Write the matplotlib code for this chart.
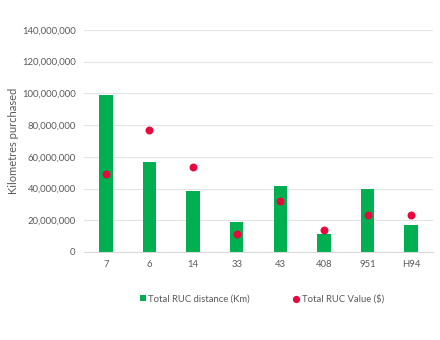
import numpy as np
import matplotlib
matplotlib.use("Agg")
import matplotlib.pyplot as plt
from matplotlib.ticker import FuncFormatter

plt.rcParams['font.family'] = ['Lato', 'DejaVu Sans']

routes = ["7", "6", "14", "33", "43", "408", "951", "H94"]
ruc_distance = [98.7e6, 56.4e6, 38.4e6, 18.7e6, 41.7e6, 11.3e6, 40.0e6, 17.0e6]
ruc_value = [48.9e6, 77.2e6, 53.6e6, 11.3e6, 32.0e6, 13.8e6, 23.0e6, 23.3e6]

green = '#00b050'
red = '#e8083e'
grey = '#595959'

fig = plt.figure(figsize=(4.4, 3.4), dpi=100)
ax = fig.add_axes([0.191, 0.259, 0.793, 0.653])

x = np.arange(len(routes))
bars = ax.bar(x, ruc_distance, width=0.31, color=green, label='Total RUC distance (Km)', zorder=2)
dots = ax.scatter(x, ruc_value, s=22, color=red, label='Total RUC Value ($)', zorder=3)

ax.set_xlim(-0.5, len(routes) - 0.5)
ax.set_ylim(0, 140e6)
ax.set_yticks(np.arange(0, 140e6 + 1, 20e6))
ax.yaxis.set_major_formatter(FuncFormatter(lambda v, p: f"{v:,.0f}"))
ax.set_xticks(x)
ax.set_xticklabels(routes)

ax.grid(axis='y', color='#e3e3e3', linewidth=0.8, zorder=0)
for s in ['top', 'right', 'left']:
    ax.spines[s].set_visible(False)
ax.spines['bottom'].set_color('#d9d9d9')
ax.tick_params(axis='both', length=0, labelsize=6.8, colors=grey, pad=6)

ax.set_ylabel('Kilometres purchased', fontsize=8, color=grey, labelpad=2)

ax.legend([bars, dots], ['Total RUC distance (Km)', 'Total RUC Value ($)'],
          loc='upper center', bbox_to_anchor=(0.51, -0.15), ncol=2, frameon=False,
          fontsize=6.8, labelcolor=grey, handlelength=0.6, handleheight=0.6,
          handletextpad=0.3, columnspacing=4.6, markerscale=0.9)

fig.savefig('out.png', dpi=100)
